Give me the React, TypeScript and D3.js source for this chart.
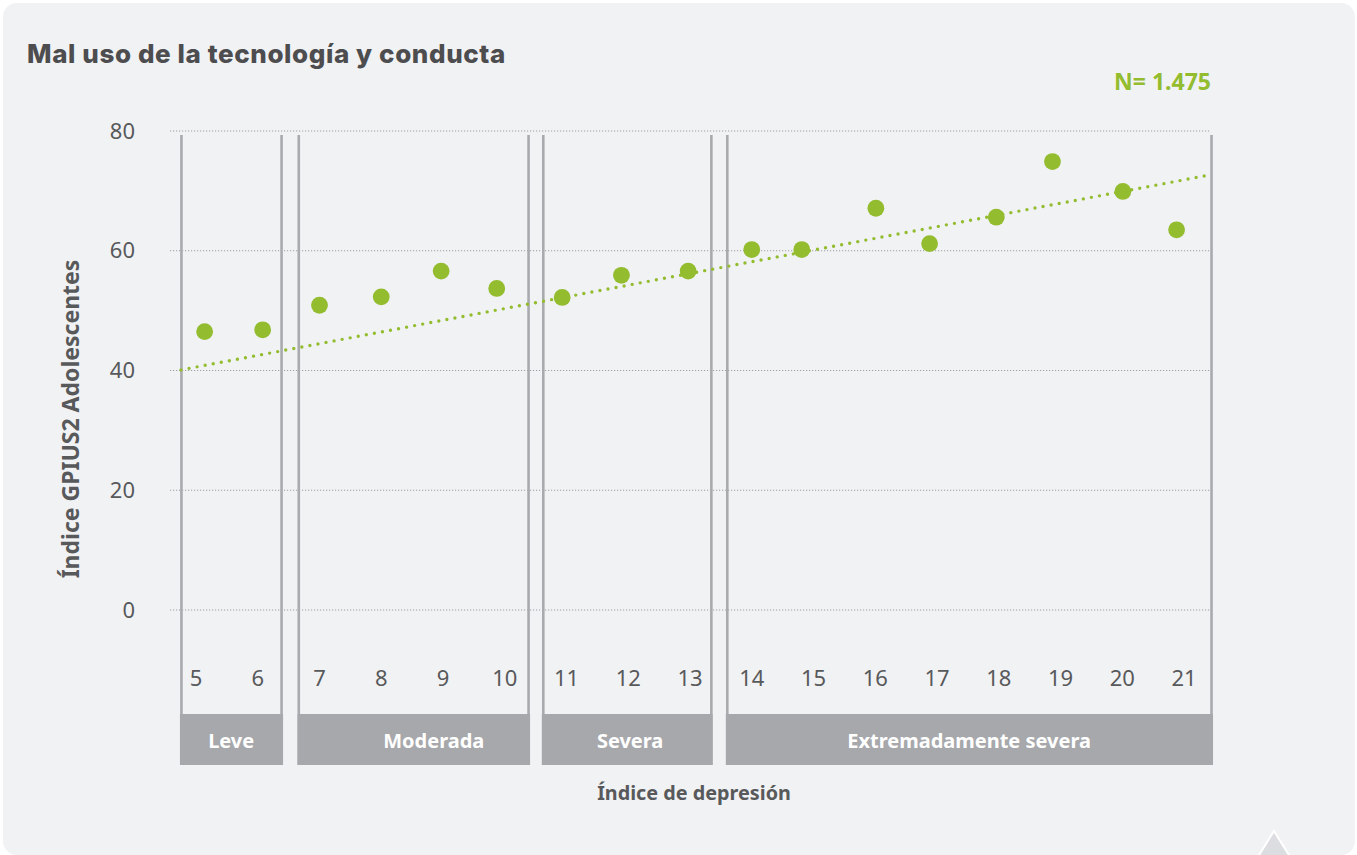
import React from 'react';
import * as d3 from 'd3';

// ---- data ----
const categories = [5, 6, 7, 8, 9, 10, 11, 12, 13, 14, 15, 16, 17, 18, 19, 20, 21];
// horizontal position of each point on the depression axis (points are slightly jittered in the source)
const pointX = [5.14, 6.08, 7.0, 8.0, 8.97, 9.87, 10.93, 11.89, 12.97, 14.0, 14.81, 16.01, 16.88, 17.96, 18.87, 20.01, 20.88];
const gpiusValues = [46.5, 46.8, 50.9, 52.3, 56.6, 53.7, 52.2, 55.9, 56.6, 60.2, 60.2, 67.1, 61.2, 65.6, 74.9, 69.9, 63.5];
const yTicks = [0, 20, 40, 60, 80];
const groupNames = ['Leve', 'Moderada', 'Severa', 'Extremadamente severa'];
const groupStart = [4.74, 6.64, 10.6, 13.58];
const groupEnd = [6.41, 10.41, 13.37, 21.47];
const groupLabelX = [5.57, 8.85, 12.03, 17.52];
const trendX = [4.757, 21.437];
const trendY = [40.1, 72.7];

const W = 1357;
const H = 855;
const GREEN = '#93bc2f';
const TEXT = '#58595b';
const BAND = '#a7a8ab';
const FONT = "'Noto Sans', sans-serif";

export default function App() {
  const x = d3.scaleLinear().domain([5, 21]).range([196, 1184]);
  const y = d3.scaleLinear().domain([0, 80]).range([610, 131]);
  const gridX0 = 170;
  const gridX1 = 1211;
  const lineTop = 135;
  const bandTop = 714;
  const bandBottom = 765;
  const trendLine = d3
    .line<number>()
    .x((d) => x(d))
    .y((_, i) => y(trendY[i]));

  return (
    <div style={{ position: 'absolute', left: 0, top: 0, width: W, height: H, background: '#fff' }}>
      <svg width={W} height={H} style={{ display: 'block', fontFamily: FONT }}>
        <rect x={3} y={3} width={W - 5} height={H - 3} rx={14} fill="#f1f2f4" />
        <polygon points="1274,831 1292,860 1256,860" fill="#dcdde0" stroke="#ffffff" strokeWidth={2} />

        <text x={27} y={62.5} fontFamily="Inter, sans-serif" fontWeight={800} fontSize={26} letterSpacing={0.6} fill="#4d4d4f">
          Mal uso de la tecnología y conducta
        </text>
        <text x={1211} y={90} textAnchor="end" fontWeight={700} fontSize={23} fill={GREEN}>
          N= 1.475
        </text>

        {/* grid */}
        {yTicks.map((t) => (
          <g key={t}>
            <line x1={gridX0} x2={gridX1} y1={y(t)} y2={y(t)} stroke="#9d9ea0" strokeWidth={1} strokeDasharray="1.2 1.8" />
            <text x={135} y={y(t)} dy="0.35em" textAnchor="end" fontSize={22} fill={TEXT}>
              {t}
            </text>
          </g>
        ))}

        {/* group frames */}
        {groupNames.map((g, i) => {
          const x0 = x(groupStart[i]);
          const x1 = x(groupEnd[i]);
          return (
            <g key={g}>
              <line x1={x0 + 1.5} x2={x0 + 1.5} y1={lineTop} y2={bandTop} stroke="#a9aaad" strokeWidth={2.6} />
              <line x1={x1 - 1.5} x2={x1 - 1.5} y1={lineTop} y2={bandTop} stroke="#a9aaad" strokeWidth={2.6} />
              <rect x={x0} y={bandTop} width={x1 - x0} height={bandBottom - bandTop} fill={BAND} />
              <text x={x(groupLabelX[i])} y={747.5} textAnchor="middle" fontWeight={700} fontSize={20} fill="#ffffff">
                {g}
              </text>
            </g>
          );
        })}

        {/* category labels */}
        {categories.map((c) => (
          <text key={c} x={x(c)} y={678} dy="0.35em" textAnchor="middle" fontSize={22} fill={TEXT}>
            {c}
          </text>
        ))}

        {/* trend */}
        <path
          d={trendLine(trendX) || ''}
          fill="none"
          stroke={GREEN}
          strokeWidth={3.4}
          strokeLinecap="round"
          strokeDasharray="0 8.2"
        />

        {/* points */}
        {gpiusValues.map((v, i) => (
          <circle key={i} cx={x(pointX[i])} cy={y(v)} r={8.4} fill={GREEN} />
        ))}

        {/* axis titles */}
        <text
          transform={`translate(78.5, 419) rotate(-90)`}
          textAnchor="middle"
          fontWeight={700}
          fontSize={23}
          fill={TEXT}
        >
          Índice GPIUS2 Adolescentes
        </text>
        <text x={694} y={800} textAnchor="middle" fontWeight={700} fontSize={19.8} fill={TEXT}>
          Índice de depresión
        </text>
      </svg>
    </div>
  );
}
